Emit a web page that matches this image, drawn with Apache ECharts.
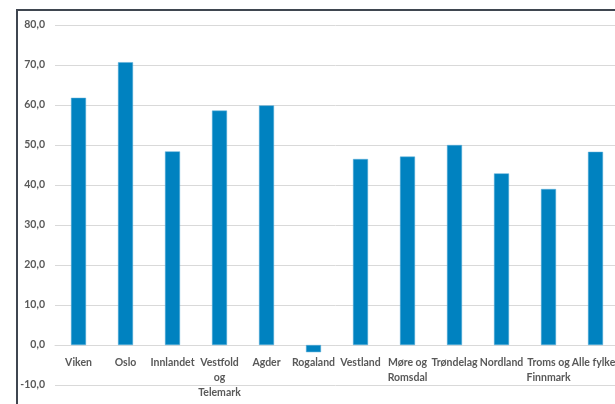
<!DOCTYPE html>
<html><head><meta charset="utf-8">
<script src="https://cdn.jsdelivr.net/npm/echarts@6/dist/echarts.min.js"></script>
<style>html,body{margin:0;padding:0;background:#fff;}#c{width:615px;height:404px;}</style>
</head><body><div id="c"></div>
<script>
const categories = ["Viken","Oslo","Innlandet","Vestfold\nog\nTelemark","Agder","Rogaland","Vestland","Møre og\nRomsdal","Trøndelag","Nordland","Troms og\nFinnmark","Alle fylker"];
const values = [61.8, 70.7, 48.4, 58.6, 59.9, -1.8, 46.5, 47.1, 50.0, 42.9, 39.0, 48.3];
const yMin = -10, yMax = 80, yStep = 10;

const chart = echarts.init(document.getElementById('c'), null, {renderer:'canvas'});
const font = 'Lato, "Liberation Sans", Arial, sans-serif';
chart.setOption({
  animation:false,
  graphic:[{type:'rect', shape:{x:17,y:10,width:700,height:500}, style:{fill:'none', stroke:'#3f4650', lineWidth:2}, z:100}],
  grid:{left:55, top:25, width:564, height:360, containLabel:false, outerBoundsMode:'none'},
  xAxis:{type:'category', data:categories, offset:-40,
    axisLine:{onZero:false, lineStyle:{color:'#d9d9d9', width:1}},
    axisTick:{show:false},
    axisLabel:{color:'#595959', fontWeight:'bold', fontSize:10.5, fontFamily:font, margin:10, lineHeight:15, interval:0, hideOverlap:false}
  },
  yAxis:{type:'value', min:yMin, max:yMax, interval:yStep,
    axisLine:{show:false}, axisTick:{show:false},
    splitLine:{lineStyle:{color:'#d9d9d9', width:1}},
    axisLabel:{color:'#595959', fontWeight:'bold', fontSize:10.5, fontFamily:font, margin:10,
      formatter:v=>v.toFixed(1).replace('.', ',')}
  },
  series:[{type:'bar', data:values, barWidth:15,
    itemStyle:{color:'#0082c0', borderColor:'#5aaed8', borderWidth:0.5}}]
});
</script></body></html>
